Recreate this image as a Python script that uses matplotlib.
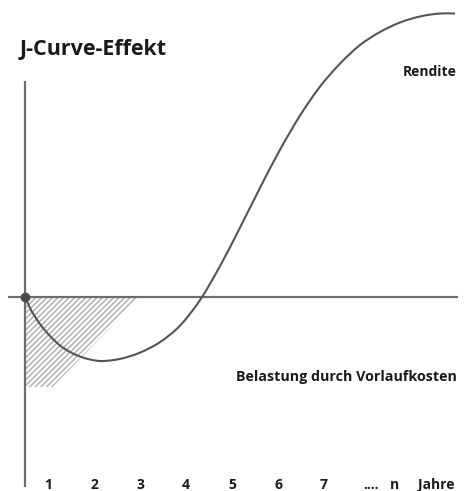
import numpy as np
import matplotlib
matplotlib.use("Agg")
import matplotlib.pyplot as plt
from matplotlib.path import Path
from matplotlib.patches import PathPatch, Polygon

# ---- data (years, relative value) ----
curve_years = [0.0, 0.109, 0.326, 0.543, 0.761, 0.978, 1.196, 1.413, 1.630,
               1.848, 2.065, 2.500, 2.935, 3.370, 3.804, 4.239, 4.674, 5.109,
               5.543, 5.978, 6.413, 6.848, 7.283, 7.717, 8.152, 8.587, 9.022,
               9.348]
curve_values = [0.0, -1.1, -2.7, -3.9, -4.85, -5.5, -5.95, -6.25, -6.4,
                -6.35, -6.19, -5.56, -4.51, -2.86, -0.31, 3.09, 6.94, 10.92,
                14.72, 18.14, 21.04, 23.34, 25.2, 26.5, 27.45, 28.05, 28.35,
                28.35]
cost_years = [0.0, 2.5, 0.6, 0.0]
cost_values = [0.0, 0.0, -9.0, -9.0]
tick_pos = [0.5, 1.5, 2.5, 3.5, 4.5, 5.5, 6.5, 7.52, 8.04, 8.93]
tick_labels = ["1", "2", "3", "4", "5", "6", "7", "....", "n", "Jahre"]
title = "J-Curve-Effekt"
label_up = "Rendite"
label_down = "Belastung durch Vorlaufkosten"

plt.rcParams['font.family'] = ['Open Sans', 'DejaVu Sans']
plt.rcParams['hatch.color'] = '#ababab'
plt.rcParams['hatch.linewidth'] = 1.0

fig = plt.figure(figsize=(4.73, 4.91), dpi=100)
ax = fig.add_axes([0, 0, 1, 1])
ax.set_xlim(-25 / 46, (473 - 25) / 46)
ax.set_ylim(-19.4, 29.7)
ax.axis('off')

axis_col = '#6e6e6e'
curve_col = '#555555'

# hatched cost area
poly = Polygon(np.column_stack([cost_years, cost_values]), closed=True,
               facecolor='none', edgecolor='#ababab', linewidth=0,
               hatch='//////', zorder=1)
ax.add_patch(poly)

# axes lines
ax.plot([-17 / 46, 433 / 46], [0, 0], color=axis_col, lw=1.6, zorder=2,
        solid_capstyle='butt')
ax.plot([0, 0], [21.6, -19.0], color=axis_col, lw=1.6, zorder=2,
        solid_capstyle='butt')

# smooth curve: cubic Hermite (function-like) -> Bezier path
x = np.asarray(curve_years, float)
y = np.asarray(curve_values, float)
h = np.diff(x)
d = np.diff(y) / h
m = np.empty_like(y)
m[0] = d[0]
m[-1] = d[-1]
for i in range(1, len(x) - 1):
    m[i] = (d[i - 1] * h[i] + d[i] * h[i - 1]) / (h[i - 1] + h[i])
verts = [(x[0], y[0])]
codes = [Path.MOVETO]
for i in range(len(x) - 1):
    verts += [(x[i] + h[i] / 3, y[i] + m[i] * h[i] / 3),
              (x[i + 1] - h[i] / 3, y[i + 1] - m[i + 1] * h[i] / 3),
              (x[i + 1], y[i + 1])]
    codes += [Path.CURVE4] * 3
ax.add_patch(PathPatch(Path(verts, codes), facecolor='none',
                       edgecolor=curve_col, lw=1.5, zorder=3))

# origin dot
ax.plot([curve_years[0]], [curve_values[0]], 'o', color='#4a4a4a',
        markersize=6, zorder=4)

# texts
ax.text(-5 / 46, 24.2, title, fontsize=15.5, fontweight='bold',
        color='#1a1a1a', ha='left', va='baseline')
ax.text(432 / 46, 22.1, label_up, fontsize=10, fontweight='bold',
        color='#1a1a1a', ha='right', va='baseline')
ax.text(432 / 46, -8.4, label_down, fontsize=10.3, fontweight='bold',
        color='#1a1a1a', ha='right', va='baseline')
for xp, lab in zip(tick_pos, tick_labels):
    ax.text(xp, -19.2, lab, fontsize=10, fontweight='bold',
            color='#1a1a1a', ha='center', va='baseline')

fig.savefig('out.png', dpi=100)
